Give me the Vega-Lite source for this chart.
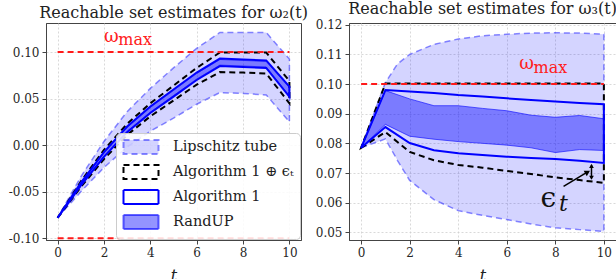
{
  "$schema": "https://vega.github.io/schema/vega-lite/v6.json",
  "padding": {"left": 7, "top": 0, "right": 0, "bottom": 0},
  "spacing": 5,
  "background": "white",
  "config": {
    "font": "DejaVu Serif",
    "view": {"stroke": "#444", "strokeWidth": 1},
    "axis": {"labelFont": "DejaVu Serif", "labelFontSize": 12, "labelColor": "#262626", "tickColor": "#444", "tickSize": 4, "domainColor": "#444", "gridColor": "#cfcfcf", "gridDash": [2, 2], "gridWidth": 0.8, "titleFont": "DejaVu Serif", "titleFontSize": 16, "titleFontStyle": "italic", "titleFontWeight": "normal", "titleColor": "#222", "labelPadding": 3, "titlePadding": 9},
    "title": {"font": "DejaVu Serif", "fontSize": 16, "fontWeight": "normal", "color": "#222", "offset": 2}
  },
  "resolve": {
    "scale": {"fill": "independent", "stroke": "independent"},
    "legend": {"fill": "independent", "stroke": "independent"}
  },
  "datasets": {
    "L": [
      {"s": "Lipschitz tube", "t": 0, "y": -0.078, "y2": -0.078},
      {"s": "Lipschitz tube", "t": 1, "y": -0.050, "y2": -0.034},
      {"s": "Lipschitz tube", "t": 2, "y": -0.024, "y2": 0.004},
      {"s": "Lipschitz tube", "t": 3, "y": -0.002, "y2": 0.036},
      {"s": "Lipschitz tube", "t": 4, "y": 0.015, "y2": 0.061},
      {"s": "Lipschitz tube", "t": 5, "y": 0.029, "y2": 0.083},
      {"s": "Lipschitz tube", "t": 6, "y": 0.044, "y2": 0.104},
      {"s": "Lipschitz tube", "t": 7, "y": 0.0565, "y2": 0.121},
      {"s": "Lipschitz tube", "t": 8, "y": 0.0555, "y2": 0.121},
      {"s": "Lipschitz tube", "t": 9, "y": 0.054, "y2": 0.121},
      {"s": "Lipschitz tube", "t": 10, "y": 0.025, "y2": 0.0925},
      {"s": "Algorithm 1 ⊕ ϵₜ", "t": 0, "y": -0.078, "y2": -0.078},
      {"s": "Algorithm 1 ⊕ ϵₜ", "t": 1, "y": -0.045, "y2": -0.039},
      {"s": "Algorithm 1 ⊕ ϵₜ", "t": 2, "y": -0.015, "y2": -0.005},
      {"s": "Algorithm 1 ⊕ ϵₜ", "t": 3, "y": 0.011, "y2": 0.023},
      {"s": "Algorithm 1 ⊕ ϵₜ", "t": 4, "y": 0.031, "y2": 0.045},
      {"s": "Algorithm 1 ⊕ ϵₜ", "t": 5, "y": 0.048, "y2": 0.064},
      {"s": "Algorithm 1 ⊕ ϵₜ", "t": 6, "y": 0.065, "y2": 0.083},
      {"s": "Algorithm 1 ⊕ ϵₜ", "t": 7, "y": 0.0785, "y2": 0.0995},
      {"s": "Algorithm 1 ⊕ ϵₜ", "t": 8, "y": 0.078, "y2": 0.0995},
      {"s": "Algorithm 1 ⊕ ϵₜ", "t": 9, "y": 0.077, "y2": 0.0995},
      {"s": "Algorithm 1 ⊕ ϵₜ", "t": 10, "y": 0.045, "y2": 0.069},
      {"s": "Algorithm 1", "t": 0, "y": -0.078, "y2": -0.078},
      {"s": "Algorithm 1", "t": 1, "y": -0.0435, "y2": -0.0405},
      {"s": "Algorithm 1", "t": 2, "y": -0.0125, "y2": -0.0075},
      {"s": "Algorithm 1", "t": 3, "y": 0.014, "y2": 0.020},
      {"s": "Algorithm 1", "t": 4, "y": 0.0345, "y2": 0.0415},
      {"s": "Algorithm 1", "t": 5, "y": 0.0522, "y2": 0.0598},
      {"s": "Algorithm 1", "t": 6, "y": 0.070, "y2": 0.078},
      {"s": "Algorithm 1", "t": 7, "y": 0.085, "y2": 0.093},
      {"s": "Algorithm 1", "t": 8, "y": 0.084, "y2": 0.092},
      {"s": "Algorithm 1", "t": 9, "y": 0.083, "y2": 0.091},
      {"s": "Algorithm 1", "t": 10, "y": 0.052, "y2": 0.063},
      {"s": "RandUP", "t": 0, "y": -0.078, "y2": -0.078},
      {"s": "RandUP", "t": 1, "y": -0.043, "y2": -0.041},
      {"s": "RandUP", "t": 2, "y": -0.0118, "y2": -0.0082},
      {"s": "RandUP", "t": 3, "y": 0.015, "y2": 0.019},
      {"s": "RandUP", "t": 4, "y": 0.0355, "y2": 0.0405},
      {"s": "RandUP", "t": 5, "y": 0.0532, "y2": 0.0588},
      {"s": "RandUP", "t": 6, "y": 0.071, "y2": 0.077},
      {"s": "RandUP", "t": 7, "y": 0.086, "y2": 0.092},
      {"s": "RandUP", "t": 8, "y": 0.085, "y2": 0.091},
      {"s": "RandUP", "t": 9, "y": 0.084, "y2": 0.090},
      {"s": "RandUP", "t": 10, "y": 0.053, "y2": 0.062}
    ],
    "R": [
      {"s": "Lipschitz tube", "t": 0, "y": 0.0785, "y2": 0.0785},
      {"s": "Lipschitz tube", "t": 1, "y": 0.0815, "y2": 0.1005},
      {"s": "Lipschitz tube", "t": 1.5, "y": 0.0742, "y2": 0.1068},
      {"s": "Lipschitz tube", "t": 2, "y": 0.0675, "y2": 0.110},
      {"s": "Lipschitz tube", "t": 3, "y": 0.061, "y2": 0.1134},
      {"s": "Lipschitz tube", "t": 4, "y": 0.0573, "y2": 0.1152},
      {"s": "Lipschitz tube", "t": 5, "y": 0.0557, "y2": 0.1163},
      {"s": "Lipschitz tube", "t": 6, "y": 0.0543, "y2": 0.1168},
      {"s": "Lipschitz tube", "t": 7, "y": 0.0528, "y2": 0.1172},
      {"s": "Lipschitz tube", "t": 8, "y": 0.0515, "y2": 0.1173},
      {"s": "Lipschitz tube", "t": 9, "y": 0.0509, "y2": 0.1172},
      {"s": "Lipschitz tube", "t": 10, "y": 0.0503, "y2": 0.1168},
      {"s": "Algorithm 1 ⊕ ϵₜ", "t": 0, "y": 0.0785, "y2": 0.0785},
      {"s": "Algorithm 1 ⊕ ϵₜ", "t": 1, "y": 0.0838, "y2": 0.1002},
      {"s": "Algorithm 1 ⊕ ϵₜ", "t": 2, "y": 0.0771, "y2": 0.1002},
      {"s": "Algorithm 1 ⊕ ϵₜ", "t": 3, "y": 0.0743, "y2": 0.1002},
      {"s": "Algorithm 1 ⊕ ϵₜ", "t": 4, "y": 0.0727, "y2": 0.1002},
      {"s": "Algorithm 1 ⊕ ϵₜ", "t": 5, "y": 0.0718, "y2": 0.1002},
      {"s": "Algorithm 1 ⊕ ϵₜ", "t": 6, "y": 0.0707, "y2": 0.1002},
      {"s": "Algorithm 1 ⊕ ϵₜ", "t": 7, "y": 0.0697, "y2": 0.1002},
      {"s": "Algorithm 1 ⊕ ϵₜ", "t": 8, "y": 0.0685, "y2": 0.1002},
      {"s": "Algorithm 1 ⊕ ϵₜ", "t": 9, "y": 0.0676, "y2": 0.1002},
      {"s": "Algorithm 1 ⊕ ϵₜ", "t": 10, "y": 0.0667, "y2": 0.1002},
      {"s": "Algorithm 1", "t": 0, "y": 0.0785, "y2": 0.0785},
      {"s": "Algorithm 1", "t": 1, "y": 0.0855, "y2": 0.0980},
      {"s": "Algorithm 1", "t": 2, "y": 0.0801, "y2": 0.0975},
      {"s": "Algorithm 1", "t": 3, "y": 0.0777, "y2": 0.0970},
      {"s": "Algorithm 1", "t": 4, "y": 0.0767, "y2": 0.0963},
      {"s": "Algorithm 1", "t": 5, "y": 0.0761, "y2": 0.0958},
      {"s": "Algorithm 1", "t": 6, "y": 0.0755, "y2": 0.0952},
      {"s": "Algorithm 1", "t": 7, "y": 0.0751, "y2": 0.0946},
      {"s": "Algorithm 1", "t": 8, "y": 0.0747, "y2": 0.0941},
      {"s": "Algorithm 1", "t": 9, "y": 0.0741, "y2": 0.0936},
      {"s": "Algorithm 1", "t": 10, "y": 0.0734, "y2": 0.0932},
      {"s": "RandUP", "t": 0, "y": 0.0785, "y2": 0.0785},
      {"s": "RandUP", "t": 1, "y": 0.0864, "y2": 0.0978},
      {"s": "RandUP", "t": 2, "y": 0.0824, "y2": 0.0950},
      {"s": "RandUP", "t": 3, "y": 0.0814, "y2": 0.0927},
      {"s": "RandUP", "t": 4, "y": 0.0806, "y2": 0.0927},
      {"s": "RandUP", "t": 5, "y": 0.0800, "y2": 0.0918},
      {"s": "RandUP", "t": 6, "y": 0.0794, "y2": 0.0910},
      {"s": "RandUP", "t": 7, "y": 0.0785, "y2": 0.0895},
      {"s": "RandUP", "t": 8, "y": 0.0769, "y2": 0.0888},
      {"s": "RandUP", "t": 9, "y": 0.0779, "y2": 0.0894},
      {"s": "RandUP", "t": 10, "y": 0.0776, "y2": 0.0883}
    ]
  },
  "hconcat": [
    {
      "width": 255,
      "height": 217,
      "title": {"text": "Reachable set estimates for ω₂(t)"},
      "encoding": {
        "x": {"field": "t", "type": "quantitative", "scale": {"domain": [-0.5, 10.5], "nice": false, "zero": false}, "axis": {"values": [0, 2, 4, 6, 8, 10], "format": "d", "title": "t"}},
        "y": {"field": "y", "type": "quantitative", "scale": {"domain": [-0.1018, 0.1312], "nice": false, "zero": false}, "axis": {"values": [-0.1, -0.05, 0, 0.05, 0.1], "labelExpr": "replace(format(datum.value, '.2f'), '−', '-')", "title": null}}
      },
      "layer": [
        {
          "data": {"name": "L"},
          "transform": [{"filter": "datum.s == 'Lipschitz tube'"}],
          "mark": {"type": "area", "strokeWidth": 1.5, "strokeDash": [6, 4]},
          "encoding": {
            "y2": {"field": "y2"},
            "fill": {"field": "s", "type": "nominal", "scale": {"domain": ["Lipschitz tube", "Algorithm 1 ⊕ ϵₜ", "Algorithm 1", "RandUP"], "range": ["rgba(0,0,255,0.17)", "rgba(255,255,255,0)", "rgba(255,255,255,0)", "rgba(0,0,255,0.42)"]}, "legend": {"orient": "none", "legendX": 70, "legendY": 110, "title": null, "symbolType": "M-2.5,-1H2.5V1H-2.5Z", "symbolSize": 196, "symbolOffset": 11, "symbolStrokeWidth": 2, "labelFont": "DejaVu Serif", "labelFontSize": 14.5, "labelColor": "#222", "labelLimit": 300, "fillColor": "rgba(255,255,255,0.85)", "strokeColor": "#cccccc", "cornerRadius": 4, "padding": 6, "rowPadding": 3, "labelOffset": 24, "encode": {"symbols": {"update": {"strokeDash": {"signal": "datum.value == 'Algorithm 1' || datum.value == 'RandUP' ? [1, 0] : [6, 4]"}}}}}},
            "stroke": {"field": "s", "type": "nominal", "scale": {"domain": ["Lipschitz tube", "Algorithm 1 ⊕ ϵₜ", "Algorithm 1", "RandUP"], "range": ["rgba(40,40,255,0.55)", "#000000", "#0000ff", "rgba(0,0,255,0.6)"]}, "legend": {"orient": "none", "legendX": 70, "legendY": 110, "title": null, "symbolType": "M-2.5,-1H2.5V1H-2.5Z", "symbolSize": 196, "symbolOffset": 11, "symbolStrokeWidth": 2, "labelFont": "DejaVu Serif", "labelFontSize": 14.5, "labelColor": "#222", "labelLimit": 300, "fillColor": "rgba(255,255,255,0.85)", "strokeColor": "#cccccc", "cornerRadius": 4, "padding": 6, "rowPadding": 3, "labelOffset": 24, "encode": {"symbols": {"update": {"strokeDash": {"signal": "datum.value == 'Algorithm 1' || datum.value == 'RandUP' ? [1, 0] : [6, 4]"}}}}}}
          }
        },
        {
          "data": {"name": "L"},
          "transform": [{"filter": "datum.s == 'Algorithm 1 ⊕ ϵₜ'"}],
          "mark": {"type": "area", "strokeWidth": 2, "strokeDash": [6, 4]},
          "encoding": {
            "y2": {"field": "y2"},
            "fill": {"field": "s", "type": "nominal"},
            "stroke": {"field": "s", "type": "nominal"}
          }
        },
        {
          "data": {"name": "L"},
          "transform": [{"filter": "datum.s == 'RandUP'"}],
          "mark": {"type": "area", "strokeWidth": 1},
          "encoding": {
            "y2": {"field": "y2"},
            "fill": {"field": "s", "type": "nominal"},
            "stroke": {"field": "s", "type": "nominal"}
          }
        },
        {
          "data": {"name": "L"},
          "transform": [{"filter": "datum.s == 'Algorithm 1'"}],
          "mark": {"type": "area", "strokeWidth": 2},
          "encoding": {
            "y2": {"field": "y2"},
            "fill": {"field": "s", "type": "nominal"},
            "stroke": {"field": "s", "type": "nominal"}
          }
        },
        {
          "data": {"values": [{"t": 0, "t2": 10, "y": 0.1}, {"t": 0, "t2": 10, "y": -0.1}]},
          "mark": {"type": "rule", "color": "#ff1a1a", "strokeWidth": 2, "strokeDash": [6, 4]},
          "encoding": {"x2": {"field": "t2"}}
        },
        {
          "data": {"values": [{"t": 2.0, "y": 0.111, "label": "ω"}]},
          "mark": {"type": "text", "align": "left", "baseline": "alphabetic", "fontSize": 18, "color": "#ff2020", "font": "DejaVu Serif"},
          "encoding": {"text": {"field": "label"}}
        },
        {
          "data": {"values": [{"t": 2.62, "y": 0.1073, "label": "max"}]},
          "mark": {"type": "text", "align": "left", "baseline": "alphabetic", "fontSize": 16, "color": "#ff2020", "font": "DejaVu Serif"},
          "encoding": {"text": {"field": "label"}}
        }
      ]
    },
    {
      "width": 267,
      "height": 217,
      "title": {"text": "Reachable set estimates for ω₃(t)"},
      "encoding": {
        "x": {"field": "t", "type": "quantitative", "scale": {"domain": [-0.5, 10.5], "nice": false, "zero": false}, "axis": {"values": [0, 2, 4, 6, 8, 10], "format": "d", "title": "t"}},
        "y": {"field": "y", "type": "quantitative", "scale": {"domain": [0.0474, 0.1206], "nice": false, "zero": false}, "axis": {"values": [0.05, 0.06, 0.07, 0.08, 0.09, 0.1, 0.11, 0.12], "format": ".2f", "title": null}}
      },
      "layer": [
        {
          "data": {"name": "R"},
          "transform": [{"filter": "datum.s == 'Lipschitz tube'"}],
          "mark": {"type": "area", "strokeWidth": 1.5, "strokeDash": [6, 4]},
          "encoding": {
            "y2": {"field": "y2"},
            "fill": {"field": "s", "type": "nominal", "scale": {"domain": ["Lipschitz tube", "Algorithm 1 ⊕ ϵₜ", "Algorithm 1", "RandUP"], "range": ["rgba(0,0,255,0.17)", "rgba(255,255,255,0)", "rgba(255,255,255,0)", "rgba(0,0,255,0.42)"]}, "legend": null},
            "stroke": {"field": "s", "type": "nominal", "scale": {"domain": ["Lipschitz tube", "Algorithm 1 ⊕ ϵₜ", "Algorithm 1", "RandUP"], "range": ["rgba(40,40,255,0.55)", "#000000", "#0000ff", "rgba(0,0,255,0.6)"]}, "legend": null}
          }
        },
        {
          "data": {"name": "R"},
          "transform": [{"filter": "datum.s == 'Algorithm 1 ⊕ ϵₜ'"}],
          "mark": {"type": "area", "strokeWidth": 2, "strokeDash": [6, 4]},
          "encoding": {
            "y2": {"field": "y2"},
            "fill": {"field": "s", "type": "nominal", "legend": null},
            "stroke": {"field": "s", "type": "nominal", "legend": null}
          }
        },
        {
          "data": {"name": "R"},
          "transform": [{"filter": "datum.s == 'RandUP'"}],
          "mark": {"type": "area", "strokeWidth": 1},
          "encoding": {
            "y2": {"field": "y2"},
            "fill": {"field": "s", "type": "nominal", "legend": null},
            "stroke": {"field": "s", "type": "nominal", "legend": null}
          }
        },
        {
          "data": {"name": "R"},
          "transform": [{"filter": "datum.s == 'Algorithm 1'"}],
          "mark": {"type": "area", "strokeWidth": 2},
          "encoding": {
            "y2": {"field": "y2"},
            "fill": {"field": "s", "type": "nominal", "legend": null},
            "stroke": {"field": "s", "type": "nominal", "legend": null}
          }
        },
        {
          "data": {"values": [{"t": 0, "t2": 10, "y": 0.1}]},
          "mark": {"type": "rule", "color": "#ff1a1a", "strokeWidth": 2, "strokeDash": [6, 4]},
          "encoding": {"x2": {"field": "t2"}}
        },
        {
          "data": {"values": [{"t": 6.51, "y": 0.1051, "label": "ω"}]},
          "mark": {"type": "text", "align": "left", "baseline": "alphabetic", "fontSize": 18, "color": "#ff2020", "font": "DejaVu Serif"},
          "encoding": {"text": {"field": "label"}}
        },
        {
          "data": {"values": [{"t": 7.1, "y": 0.1039, "label": "max"}]},
          "mark": {"type": "text", "align": "left", "baseline": "alphabetic", "fontSize": 16, "color": "#ff2020", "font": "DejaVu Serif"},
          "encoding": {"text": {"field": "label"}}
        },
        {
          "data": {"values": [{"t": 8.34, "t2": 9.3, "y": 0.0655, "y2": 0.0702}, {"t": 9.49, "t2": 9.49, "y": 0.0682, "y2": 0.0726}]},
          "mark": {"type": "rule", "color": "#000000", "strokeWidth": 1.5},
          "encoding": {"x2": {"field": "t2"}, "y2": {"field": "y2"}}
        },
        {
          "data": {"values": [{"t": 9.33, "y": 0.0703}]},
          "mark": {"type": "point", "shape": "triangle-up", "angle": 60, "filled": true, "size": 40, "color": "#000000", "opacity": 1},
          "encoding": {}
        },
        {
          "data": {"values": [{"t": 9.49, "y": 0.0724}]},
          "mark": {"type": "point", "shape": "triangle-up", "filled": true, "size": 22, "color": "#000000", "opacity": 1},
          "encoding": {}
        },
        {
          "data": {"values": [{"t": 9.49, "y": 0.0684}]},
          "mark": {"type": "point", "shape": "triangle-down", "filled": true, "size": 22, "color": "#000000", "opacity": 1},
          "encoding": {}
        },
        {
          "data": {"values": [{"t": 7.39, "y": 0.0586, "label": "ϵ"}]},
          "mark": {"type": "text", "align": "left", "baseline": "alphabetic", "fontSize": 28, "color": "#111111", "font": "DejaVu Serif"},
          "encoding": {"text": {"field": "label"}}
        },
        {
          "data": {"values": [{"t": 8.15, "y": 0.0572, "label": "t"}]},
          "mark": {"type": "text", "align": "left", "baseline": "alphabetic", "fontSize": 22, "fontStyle": "italic", "color": "#111111", "font": "DejaVu Serif"},
          "encoding": {"text": {"field": "label"}}
        }
      ]
    }
  ]
}
